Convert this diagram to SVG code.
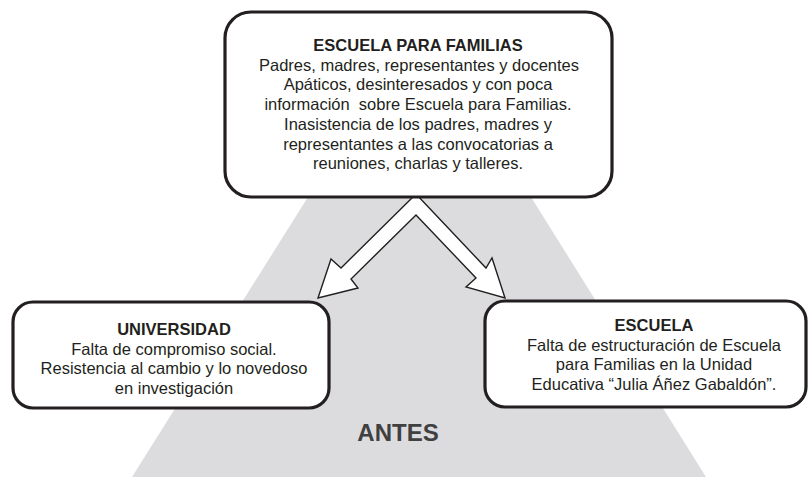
<svg xmlns="http://www.w3.org/2000/svg" width="810" height="477" viewBox="0 0 810 477">
<style>
.box{fill:#ffffff;stroke:#231f20;stroke-width:3.2}
.t{font-family:"Liberation Sans",Arial,sans-serif;font-size:16.5px;fill:#231f20;text-anchor:middle}
.b{font-weight:bold}
.arrow{fill:#ffffff;stroke:#231f20;stroke-width:1.4;stroke-linejoin:miter}
</style>
<rect width="810" height="477" fill="#ffffff"/>
<g id="background">
<polygon points="308,197 531,197 706,477 132,477" fill="#dcdcde"/>
<text x="398" y="441" font-family="Liberation Sans,Arial,sans-serif" font-size="24" font-weight="bold" fill="#404041" text-anchor="middle">ANTES</text>
</g>
<g id="connectors">
<polygon class="arrow" points="416,194 486,268 492,258 505,298 466,287 476,278 416,215 351,279 358,288 318,298 331,259 341,268"/>
</g>
<g id="escuela-para-familias">
<rect class="box" x="225" y="12" width="387" height="185" rx="26"/>
<text class="t b" x="418" y="51">ESCUELA PARA FAMILIAS</text>
<text class="t" x="419" y="70.7">Padres, madres, representantes y docentes</text>
<text class="t" x="418" y="90.4">Apáticos, desinteresados y con poca</text>
<text class="t" x="418" y="110" xml:space="preserve">información  sobre Escuela para Familias.</text>
<text class="t" x="418" y="129.8">Inasistencia de los padres, madres y</text>
<text class="t" x="418" y="149.5">representantes a las convocatorias a</text>
<text class="t" x="418" y="169.2">reuniones, charlas y talleres.</text>
</g>
<g id="universidad">
<rect class="box" x="13" y="302" width="316" height="106" rx="20"/>
<text class="t b" x="174" y="335">UNIVERSIDAD</text>
<text class="t" x="174" y="354.5">Falta de compromiso social.</text>
<text class="t" x="174" y="374">Resistencia al cambio y lo novedoso</text>
<text class="t" x="174" y="393.5">en investigación</text>
</g>
<g id="escuela">
<rect class="box" x="485" y="301" width="321" height="106" rx="20"/>
<text class="t b" x="654" y="331">ESCUELA</text>
<text class="t" x="654" y="350.5">Falta de estructuración de Escuela</text>
<text class="t" x="654" y="370">para Familias en la Unidad</text>
<text class="t" x="654" y="389.5">Educativa “Julia Áñez Gabaldón”.</text>
</g>
</svg>
